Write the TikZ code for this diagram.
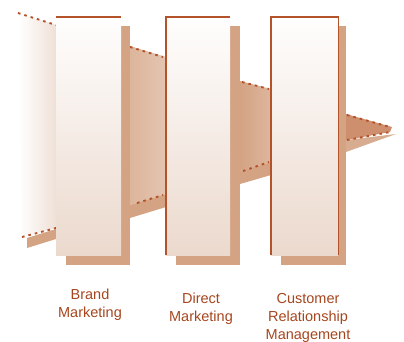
\documentclass[tikz,border=0pt]{standalone}
\usepackage{fontspec}
\setsansfont{Liberation Sans}
\usetikzlibrary{calc}

\definecolor{rust}{HTML}{B4532A}
\definecolor{inkrust}{HTML}{A6461E}
\definecolor{tan}{HTML}{D4A384}
\definecolor{blush}{HTML}{EBD9CD}
\definecolor{face}{HTML}{DDB69D}
\definecolor{deepface}{HTML}{CD8F6D}

\tikzset{
	panel/.style={anchor=north west, inner sep=0pt, minimum width=65pt, minimum height=238pt, top color=white!97!blush, bottom color=blush},
	rim/.style={rust, line width=1.9pt, dash pattern=on 2.6pt off 4pt},
	edgeline/.style={rust, line width=1.3pt},
	caption/.style={anchor=north, inner sep=0pt, align=center, text=inkrust, font=\sffamily\fontsize{14.5}{18}\selectfont},
}

\begin{document}
\begin{tikzpicture}[x=1pt, y=-1pt]
			%%%%% START %%%%%
			\useasboundingbox (0, 0) rectangle (404, 341);
			
			% funnel between the stages
			\shade[left color=white, right color=blush!80] (18, 13) -- (56, 25) -- (56, 228) -- (22, 237) -- cycle;
			\fill[tan] (27, 238) -- (56, 229) -- (56, 239) -- (27, 248) -- cycle;
			\draw[rim] (18, 13) -- (56, 25);
			\draw[rim] (22, 237) -- (56, 228);
			
			\shade[left color=face!95!tan, right color=face!80!white] (130, 46) -- (166, 57) -- (166, 194) -- (130, 205) -- cycle;
			\fill[tan] (130, 205) -- (166, 194) -- (166, 207) -- (130, 218) -- cycle;
			\draw[rim] (130, 47) -- (163, 57);
			\draw[rim] (137, 203) -- (163, 195);
			
			\shade[left color=tan, right color=face] (240, 81) -- (271, 89) -- (271, 162) -- (240, 171) -- cycle;
			\fill[tan] (240, 171) -- (271, 162) -- (271, 175) -- (240, 184) -- cycle;
			\draw[rim] (242, 82) -- (269, 89);
			\draw[rim] (243, 171) -- (269, 162);
			
			\fill[deepface] (346, 114) -- (392, 127) -- (390, 132) -- (346, 140) -- cycle;
			\fill[tan!90!white] (346, 140) -- (396, 134) -- (346, 152) -- cycle;
			\draw[rim] (347, 115) -- (390, 127);
			\draw[rim] (347, 140) -- (390, 132);
			
			% shadows behind the panels
			\fill[tan] (66, 26) rectangle (130, 265);
			\fill[tan] (176, 26) rectangle (240, 265);
			\fill[tan] (281, 26) rectangle (346, 265);
			
			% the three panels
			\node[panel] (brand) at (56, 17) {};
			\node[panel, minimum width=64pt] (direct) at (166, 17) {};
			\node[panel, minimum width=67pt] (customer) at (271, 17) {};
			
			\draw[edgeline, line width=2pt] (brand.north west) -- (brand.north east);
			\draw[edgeline] (direct.south west) -- (direct.north west) -- (direct.north east);
			\draw[edgeline] (customer.south west) -- (customer.north west) -- (customer.north east) -- (customer.south east);
			
			% captions
			\node[caption] (brandtext) at (90, 289) {Brand\\Marketing};
			\node[caption] (directtext) at (201, 293) {Direct\\Marketing};
			\node[caption] (customertext) at (308, 293) {Customer\\Relationship\\Management};
			%%%%% END %%%%%
\end{tikzpicture}
\end{document}
